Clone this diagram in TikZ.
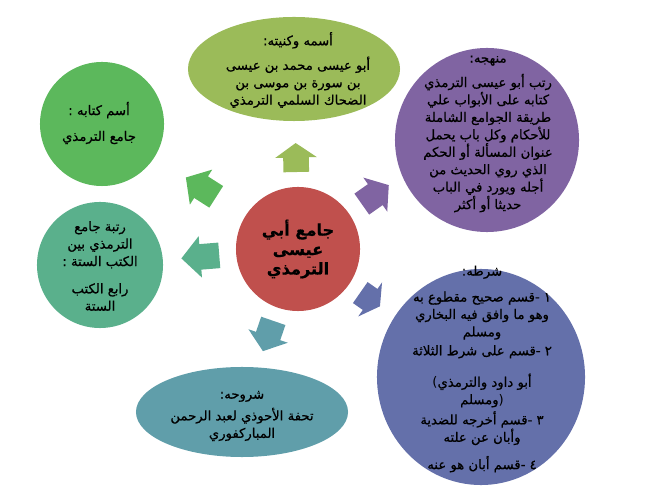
\documentclass[tikz,border=0pt]{standalone}
\usepackage{fontspec}
\usetikzlibrary{shapes.geometric,calc}
\newfontfamily\arabicfont[Script=Arabic,FakeBold=0.6]{DejaVu Sans}
\newfontfamily\latinfont{DejaVu Sans}
\TeXXeTstate=1
\newcommand\ar[1]{\beginR #1\endR}
\definecolor{hubred}{HTML}{C0504D}
\definecolor{olive}{HTML}{9BBB59}
\definecolor{plum}{HTML}{8064A2}
\definecolor{slate}{HTML}{6470AA}
\definecolor{teal}{HTML}{609EAA}
\definecolor{sea}{HTML}{5AB08C}
\definecolor{leaf}{HTML}{5CB85C}

\begin{document}
\begin{tikzpicture}[x=0.025cm,y=-0.025cm,
  bubble/.style={fill=#1,draw=none,inner sep=0pt},
  txt/.style={align=center,inner sep=0pt,font=\arabicfont\fontsize{9.4}{12.4}\selectfont},
  ]

  \def\spoke#1#2#3#4#5{
    \path ($(#1)!#3*0.025cm!(#2)$) coordinate (sb)
          ($(#1)!#4*0.025cm!(#2)$) coordinate (st)
          ($(sb)!0.5!(st)$) coordinate (sh);
    \fill[#5] ($(sb)!0.32cm!90:(st)$) -- ($(sh)!0.32cm!90:(st)$) -- ($(sh)!0.52cm!90:(st)$)
      -- (st) -- ($(sh)!0.52cm!-90:(st)$) -- ($(sh)!0.32cm!-90:(st)$)
      -- ($(sb)!0.32cm!-90:(st)$) -- cycle;
  }
  \useasboundingbox (0,0) rectangle (656,503);

  % bubbles
  \node[bubble=hubred,circle,minimum size=3.1cm] (hub) at (298,249) {};
  \node[bubble=olive,ellipse,minimum width=5.3cm,minimum height=2.6cm] (kunya) at (294,69) {};
  \node[bubble=plum,circle,minimum size=4.6cm] (method) at (487,140) {};
  \node[bubble=slate,ellipse,minimum width=5.2cm,minimum height=5.4cm] (cond) at (481,377) {};
  \node[bubble=teal,ellipse,minimum width=5.3cm,minimum height=2.25cm] (comm) at (242,412) {};
  \node[bubble=sea,circle,minimum size=3.15cm] (rank) at (100,265) {};
  \node[bubble=leaf,circle,minimum size=3.1cm] (title) at (102,124) {};
  \coordinate (methodaim) at (487,116);

  % arrows
  \spoke{hub}{kunya}{77}{106}{olive}
  \spoke{hub}{methodaim}{78}{111}{plum}
  \spoke{hub}{cond}{76}{100}{slate}
  \spoke{hub}{comm}{76}{108}{teal}
  \spoke{hub}{rank}{79}{117}{sea}
  \spoke{hub}{title}{97}{133}{leaf}

  % texts
  \node[txt,font=\arabicfont\bfseries\fontsize{11.5}{13.8}\selectfont] (hubtext) at (298,249)
    {\ar{جامع أبي}\\ \ar{عيسى}\\ \ar{الترمذي}};
  \node[txt] (kunyatext) at (298,70) {\ar{أسمه وكنيته:}\\[5pt]
    \ar{أبو عيسى محمد بن عيسى}\\ \ar{بن سورة بن موسى بن}\\ \ar{الضحاك السلمي الترمذي}};
  \node[txt] (methodtext) at (488,134) {\ar{منهجه:}\\[5pt]
    \ar{رتب أبو عيسى الترمذي}\\ \ar{كتابه على الأبواب علي}\\ \ar{طريقة الجوامع الشاملة}\\
    \ar{للأحكام وكل باب يحمل}\\ \ar{عنوان المسألة أو الحكم}\\ \ar{الذي روي الحديث من}\\
    \ar{أجله ويورد في الباب}\\ \ar{حديثا أو أكثر}};
  \node[txt] (condtext) at (482,369) {\ar{شرطه:}\\[6pt]
    \ar{١ -قسم صحيح مقطوع به}\\ \ar{وهو ما وافق فيه البخاري}\\ \ar{ومسلم}\\[1pt]
    \ar{٢ -قسم على شرط الثلاثة}\\[10pt]
    {\latinfont(}\ar{أبو داود والترمذي}\\ \ar{ومسلم}{\latinfont)}\\[2pt]
    \ar{٣ -قسم أخرجه للضدية}\\ \ar{وأبان عن علته}\\[7pt]
    \ar{٤ -قسم أبان هو عنه}};
  \node[txt] (commtext) at (242,416) {\ar{شروحه:}\\[3pt]
    \ar{تحفة الأحوذي لعبد الرحمن}\\ \ar{المباركفوري}};
  \node[txt] (ranktext) at (100,266) {\ar{رتبة جامع}\\ \ar{الترمذي بين}\\ \ar{الكتب الستة :}\\[7pt]
    \ar{رابع الكتب}\\ \ar{الستة}};
  \node[txt] (titletext) at (99,123) {\ar{أسم كتابه :}\\[6pt] \ar{جامع الترمذي}};

\end{tikzpicture}
\end{document}
